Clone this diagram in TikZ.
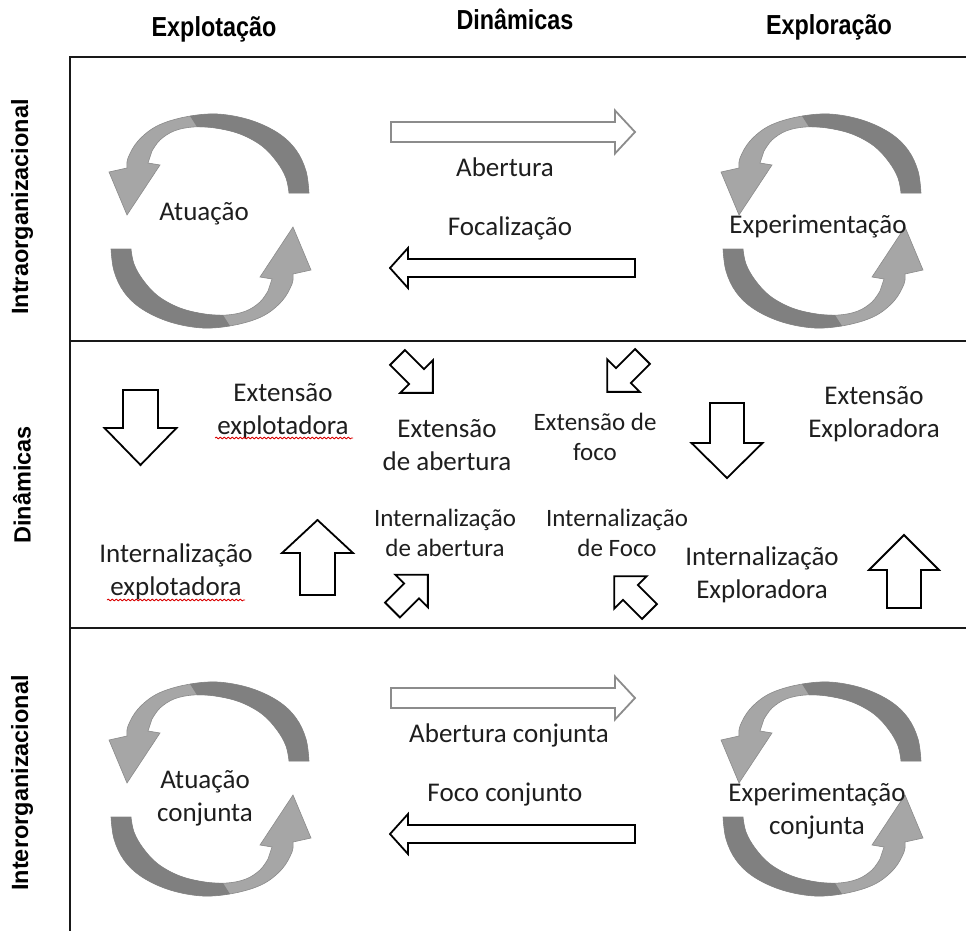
\documentclass[tikz,border=0pt]{standalone}
\usepackage{fontspec}
\setmainfont{Carlito}
\newfontfamily\headfont{Liberation Sans}[FakeStretch=0.85]
\newfontfamily\sidefont{Liberation Sans}
\usetikzlibrary{decorations.pathmorphing}

\definecolor{ringdark}{HTML}{808080}
\definecolor{ringlight}{HTML}{A6A6A6}
\definecolor{ringedge}{HTML}{8A8A8A}
\definecolor{arrowgray}{HTML}{8C8C8C}
\definecolor{ink}{HTML}{1E1E1E}

\tikzset{
  ruleline/.style={line width=2.6pt, draw=black!90},
  lbl/.style={font=\fontsize{27}{33}\selectfont, align=center, text=ink, inner sep=0pt},
  lblsm/.style={font=\fontsize{25}{30}\selectfont, align=center, text=ink, inner sep=0pt},
  head/.style={font=\headfont\bfseries\fontsize{27.5}{30}\selectfont, inner sep=0pt},
  side/.style={font=\sidefont\bfseries\fontsize{23.5}{27}\selectfont, rotate=90, inner sep=0pt},
  blackarrow/.style={draw=black, line width=1.8pt, fill=white},
  grayarrow/.style={draw=arrowgray, line width=1.8pt, fill=white},
  squiggle/.style={draw=red!85!black, line width=0.8pt, decorate,
    decoration={snake, amplitude=0.9pt, segment length=4pt}},
  % block arrow along +x: length, shaft half width, head half width, head length
  pics/barrow/.style n args={4}{code={
    \path[pic actions] (0,-#2) -- ({#1-#4},-#2) -- ({#1-#4},-#3) -- (#1,0)
      -- ({#1-#4},#3) -- ({#1-#4},#2) -- (0,#2) -- cycle;
  }},
  % one twisted half of a circular arrow
  pics/halfturn/.style={code={
    \fill[ringlight, draw=ringedge, line width=0.6pt]
      plot[smooth, tension=0.6] coordinates {(99,-28) (96,-50) (86,-71) (68,-88) (40,-101)
        (7,-107) (-25,-104) (-53,-95) (-72,-80) (-82,-63) (-83,-53)}
      -- (-101,-49) -- (-83,-6) -- (-50,-56) -- (-62,-58)
      -- plot[smooth, tension=0.6] coordinates {(-58,-70) (-50,-81) (-36,-90) (-17,-94)
        (5,-93) (30,-87) (52,-75) (67,-59) (76,-43) (79,-28)} -- cycle;
    \fill[ringdark]
      plot[smooth, tension=0.6] coordinates {(99,-28) (96,-50) (86,-71) (68,-88) (40,-101)
        (7,-107) (-20,-105)}
      -- plot[smooth, tension=0.6] coordinates {(-13,-94) (5,-93) (30,-87) (52,-75)
        (67,-59) (76,-43) (79,-28)} -- cycle;
  }},
  pics/turncycle/.style={code={
    \pic {halfturn};
    \pic[rotate=180] {halfturn};
  }}
}

\begin{document}
\begin{tikzpicture}[x=1pt,y=-1pt]
\useasboundingbox (0,0) rectangle (966,931);

% column headings
\node[head] (hexplot) at (214,29) {Explotação};
\node[head] (hdin) at (515,19) {Dinâmicas};
\node[head] (hexplor) at (829,27) {Exploração};

% row headings
\node[side] (sintra) at (22,207) {Intraorganizacional};
\node[side] (sdin) at (22,485) {Dinâmicas};
\node[side] (sinter) at (22,783) {Interorganizacional};

% table rules
\draw[ruleline] (966,57) -- (70,57) -- (70,931);
\draw[ruleline] (70,341) -- (966,341);
\draw[ruleline] (70,628) -- (966,628);

% circular arrows
\pic (c1) at (210,221) {turncycle};
\pic (c2) at (822,221) {turncycle};
\pic (c3) at (210,789) {turncycle};
\pic (c4) at (822,789) {turncycle};

\node[lbl] (atu) at (204,214) {Atuação};
\node[lbl] (exper) at (818,226) {Experimentação};
\node[lbl] (atuc) at (205,798) {Atuação\\conjunta};
\node[lbl] (experc) at (817,811) {Experimentação\\conjunta};

% horizontal dynamics, top row
\pic[grayarrow] (abr) at (391,132) {barrow={244}{10}{21.5}{20}};
\pic[blackarrow, rotate=180] (foc) at (635,268) {barrow={245}{9}{20}{18}};
\node[lbl] (labr) at (505,167) {Abertura};
\node[lbl] (lfoc) at (510,228) {Focalização};

% horizontal dynamics, bottom row
\pic[grayarrow] (abrc) at (391,698) {barrow={244}{10}{21.5}{20}};
\pic[blackarrow, rotate=180] (focc) at (635,834) {barrow={245}{9}{20}{18}};
\node[lbl] (labrc) at (509,735) {Abertura conjunta};
\node[lbl] (lfocc) at (505,795) {Foco conjunto};

% vertical dynamics
\pic[blackarrow, rotate=-90] (dl) at (140.5,390) {barrow={75}{17.5}{36}{37}};
\pic[blackarrow, rotate=90] (ul) at (317.5,595) {barrow={75}{17.5}{35.5}{33}};
\pic[blackarrow, rotate=-90] (dr) at (727,403) {barrow={75}{17}{35.5}{35}};
\pic[blackarrow, rotate=90] (ur) at (904,608) {barrow={73}{17}{35}{35}};

% diagonal dynamics
\pic[blackarrow, rotate=-45] (dtl) at (397.5,357.5) {barrow={50}{10.5}{23}{23}};
\pic[blackarrow, rotate=-135] (dtr) at (642.5,356.5) {barrow={50}{10.5}{23}{23}};
\pic[blackarrow, rotate=45] (dbl) at (392.5,610) {barrow={50}{10.5}{23}{23}};
\pic[blackarrow, rotate=135] (dbr) at (649.5,611.5) {barrow={50}{10.5}{23}{23}};

% labels of the middle band
\node[lbl] (lextexp) at (283,411) {Extensão\\explotadora};
\node[lbl] (lintexp) at (176,572) {Internalização\\explotadora};
\node[lbl] (lextabr) at (447,445) {Extensão\\de abertura};
\node[lblsm] (lextfoc) at (595,437) {Extensão de\\foco};
\node[lblsm] (lintabr) at (445,533) {Internalização\\de abertura};
\node[lblsm] (lintfoc) at (617,533) {Internalização\\de Foco};
\node[lbl] (lextxpl) at (874,414) {Extensão\\Exploradora};
\node[lbl] (lintxpl) at (762,575) {Internalização\\Exploradora};

% spelling marks
\draw[squiggle] (215,438) -- (353,438);
\draw[squiggle] (107,600) -- (245,600);
\end{tikzpicture}
\end{document}
